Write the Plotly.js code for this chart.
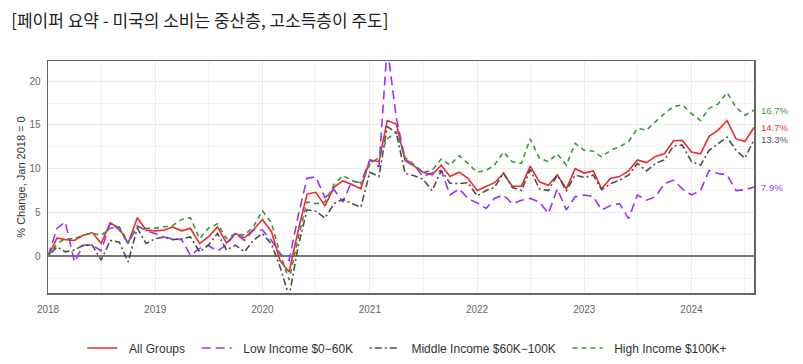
<!DOCTYPE html>
<html>
<head>
<meta charset="utf-8">
<script src="https://cdn.plot.ly/plotly-3.0.1.min.js"></script>
<style>html,body{margin:0;padding:0;background:#fff;}#chart{width:803px;height:364px;}</style>
</head>
<body>
<div id="chart"></div>
<script>
// Monthly observations, Jan 2018 .. Aug 2024
const startYear = 2018, startMonth = 1, nMonths = 80;
const months = [];
for (let i = 0; i < nMonths; i++) {
  const y = startYear + Math.floor((startMonth - 1 + i) / 12);
  const m = ((startMonth - 1 + i) % 12) + 1;
  months.push(y + '-' + String(m).padStart(2, '0') + '-01');
}

const seriesNames = ['All Groups', 'Low Income $0\u221260K', 'Middle Income $60K\u2212100K', 'High Income $100K+'];

const allGroups = [0, 2.1, 1.9, 1.8, 2.4, 2.7, 1.45, 3.8, 3.2, 1.45,
  4.4, 3.0, 2.9, 3.0, 3.35, 2.9, 3.2, 1.45, 2.2, 3.35,
  1.5, 2.6, 2.1, 3.0, 4.2, 2.8, -0.5, -1.8, 2.8, 7.1,
  7.3, 5.75, 7.9, 8.6, 8.2, 7.7, 11.0, 10.8, 15.5, 15.1,
  10.9, 10.3, 9.6, 9.3, 10.4, 9.1, 9.6, 8.9, 7.5, 8.0,
  8.4, 9.45, 8.0, 8.0, 10.3, 8.5, 8.1, 9.3, 7.7, 10.0,
  9.5, 9.75, 7.7, 8.9, 9.1, 9.75, 11.0, 10.7, 11.4, 11.7,
  13.2, 13.25, 11.9, 11.7, 13.7, 14.4, 15.5, 13.4, 13.1, 14.7];

const lowIncome = [0, 3.2, 3.9, -0.65, 1.26, 1.3, 0.6, 3.8, 3.0, 1.45,
  3.5, 2.9, 2.6, 2.2, 2.0, 1.9, 0.1, 0.9, 1.2, 0.6,
  1.3, 2.6, 1.8, 3.0, 3.0, 1.8, 0.3, -0.5, 4.5, 8.9,
  9.07, 6.7, 7.6, 6.2, 8.6, 8.4, 11.0, 10.2, 24.0, 15.8,
  11.1, 10.4, 9.1, 9.5, 9.8, 7.0, 7.7, 6.6, 6.1, 5.45,
  6.6, 7.0, 6.0, 6.4, 6.6, 6.2, 4.9, 7.7, 5.3, 6.8,
  7.0, 6.8, 5.3, 5.8, 6.0, 4.3, 7.0, 6.4, 6.8, 8.3,
  8.7, 7.7, 7.0, 7.5, 9.8, 9.45, 9.3, 7.5, 7.6, 7.9];

const middleIncome = [0, 1.07, 0.5, 0.7, 1.26, 1.26, -0.45, 1.8, 1.6, -0.65,
  3.2, 1.45, 2.0, 2.2, 1.9, 2.0, 2.2, 0.5, 1.26, 2.6,
  0.7, 1.26, 0.5, 1.8, 2.6, 1.4, -1.2, -4.6, 1.0, 5.3,
  5.15, 4.35, 6.0, 6.5, 6.0, 5.6, 9.6, 9.1, 14.8, 14.1,
  9.45, 9.2, 8.8, 7.5, 9.8, 8.35, 8.3, 8.4, 6.9, 7.5,
  7.85, 9.5, 7.85, 7.5, 9.9, 7.7, 7.5, 9.26, 7.5, 9.26,
  9.0, 9.26, 7.6, 8.3, 8.7, 9.26, 10.6, 9.75, 10.6, 11.0,
  12.6, 12.7, 10.8, 10.4, 12.1, 12.9, 13.6, 12.1, 11.2, 13.3];

const highIncome = [0, 1.45, 2.0, 2.0, 2.4, 2.6, 2.4, 3.2, 3.35, 1.6,
  3.35, 3.2, 3.2, 3.35, 3.5, 4.2, 4.4, 2.0, 3.2, 3.7,
  2.0, 2.6, 2.4, 3.35, 5.2, 3.8, 0.3, -2.7, 2.0, 6.2,
  6.0, 6.2, 8.2, 9.2, 8.7, 8.2, 10.5, 11.3, 13.4, 14.2,
  11.3, 10.4, 9.6, 9.8, 11.1, 10.4, 11.5, 10.6, 9.6, 9.8,
  10.4, 11.9, 10.8, 10.6, 13.4, 11.2, 10.8, 11.7, 10.4, 12.9,
  12.1, 12.0, 11.35, 12.1, 12.5, 13.1, 14.6, 14.4, 15.35, 16.3,
  17.1, 17.3, 16.3, 15.5, 16.9, 17.4, 18.7, 17.0, 16.1, 16.7];

const yTicks = [0, 5, 10, 15, 20];

const colors = ['#EE2B2B', '#9B30FF', '#4D4D4D', '#3A963A'];
const labelColors = ['#EE3333', '#A040FF', '#555555', '#3E9A3E'];
const dashes = ['solid', '9px,5px', '2px,3px,7px,3px', '5px,4px'];
const seriesData = [allGroups, lowIncome, middleIncome, highIncome];

// legend padding around names (non-breaking spaces)
const padL = '\u00a0\u00a0', padR = '\u00a0\u00a0';

const traces = seriesData.map((vals, k) => ({
  type: 'scatter', mode: 'lines', x: months, y: vals, name: padL + seriesNames[k] + padR,
  line: {color: colors[k], width: 1.6, dash: dashes[k]},
  hoverinfo: 'skip'
}));

const annotations = seriesData.map((vals, k) => ({
  xref: 'paper', x: 1, yref: 'y', y: vals[vals.length - 1],
  xanchor: 'left', yanchor: 'middle', xshift: 5, showarrow: false,
  text: vals[vals.length - 1].toFixed(1) + '%',
  font: {family: 'Liberation Sans, Arial, sans-serif', size: 9.5, color: labelColors[k]}
}));

const layout = {
  width: 803, height: 364,
  margin: {l: 48, r: 49, t: 61, b: 71},
  paper_bgcolor: '#ffffff', plot_bgcolor: '#ffffff',
  font: {family: 'Liberation Sans, Arial, sans-serif', color: '#333'},
  title: {
    text: '[페이퍼 요약 - 미국의 소비는 중산층, 고소득층이 주도]',
    font: {family: 'Noto Sans CJK KR, sans-serif', size: 17, color: '#222'},
    xref: 'container', x: 0.014, xanchor: 'left',
    yref: 'container', y: 0.943, yanchor: 'middle'
  },
  xaxis: {
    type: 'date', range: [months[0], months[months.length - 1]],
    tick0: months[0], dtick: 'M12', tickformat: '%Y',
    ticks: '', ticklabelstandoff: 6,
    tickfont: {size: 10, color: '#666'},
    showgrid: true, gridcolor: '#ebebeb', gridwidth: 1,
    minor: {dtick: 'M6', showgrid: true, gridcolor: '#f2f2f2', gridwidth: 1},
    showline: true, linecolor: '#666', linewidth: 1.5, mirror: true,
    zeroline: false, fixedrange: true
  },
  yaxis: {
    range: [-4.2, 22.3], tickmode: 'array', tickvals: yTicks,
    ticks: '', ticklabelstandoff: 4,
    tickfont: {size: 10, color: '#666'},
    title: {text: '% Change, Jan 2018 = 0', font: {size: 11, color: '#333'}, standoff: 1},
    showgrid: true, gridcolor: '#ebebeb', gridwidth: 1,
    minor: {dtick: 2.5, showgrid: true, gridcolor: '#f2f2f2', gridwidth: 1},
    showline: true, linecolor: '#666', linewidth: 1.5, mirror: true,
    zeroline: true, zerolinecolor: '#777', zerolinewidth: 2, fixedrange: true
  },
  showlegend: true,
  legend: {
    orientation: 'h', xref: 'container', x: 0.511, xanchor: 'center',
    yref: 'container', y: 0.044, yanchor: 'middle',
    font: {size: 12, color: '#333'}, itemwidth: 30
  },
  annotations: annotations
};

Plotly.newPlot('chart', traces, layout, {displayModeBar: false, staticPlot: true});
</script>
</body>
</html>
